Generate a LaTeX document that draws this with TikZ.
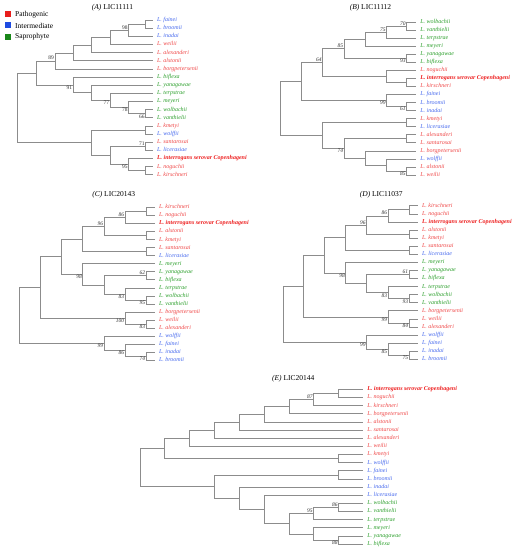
\documentclass[tikz,border=0pt]{standalone}
\usepackage{fontspec}
\setmainfont{Liberation Serif}
\definecolor{pat}{RGB}{240,72,72}
\definecolor{patb}{RGB}{238,30,30}
\definecolor{int}{RGB}{70,105,238}
\definecolor{sap}{RGB}{45,160,45}
\definecolor{sqred}{RGB}{232,30,28}
\definecolor{sqblue}{RGB}{30,75,225}
\definecolor{sqgreen}{RGB}{25,135,25}
\definecolor{brc}{RGB}{140,140,140}
\tikzset{
  br/.style={draw=brc, line width=0.55pt},
  leaf/.style={anchor=west, inner xsep=3.8pt, inner ysep=0pt,
    font=\fontsize{6}{6}\selectfont\itshape, text height=4.2pt, text depth=1.2pt},
  leafb/.style={leaf, font=\fontsize{6}{6}\selectfont\bfseries\itshape, text=patb},
  bs/.style={inner sep=0.6pt, font=\fontsize{5.5}{5.5}\selectfont, text=black!80},
  ttl/.style={inner sep=0pt, font=\fontsize{7.5}{7.5}\selectfont},
  sq/.style={minimum size=6pt, inner sep=0pt},
  lgt/.style={anchor=west, inner sep=0pt, font=\fontsize{7.5}{7.5}\selectfont}
}
\newcommand\myleaf[5]{\coordinate (#1) at (#2,#3); \node[leaf,text=#4] (#1t) at (#1) {L. #5};}
\newcommand\myleafb[3]{\coordinate (#1) at (#2,#3); \node[leafb] (#1t) at (#1) {L. interrogans serovar Copenhageni};}
\newcommand\mynode[3]{\coordinate (#1) at (#2,#3);}
\newcommand\myjoin[3]{\draw[br] (#1) |- (#2); \draw[br] (#1) |- (#3);}
\newcommand\bsup[2]{\node[bs,anchor=south east] (#1bs) at (#1) {#2};}
\newcommand\bsdn[2]{\node[bs,anchor=north east] (#1bs) at (#1) {#2};}
\begin{document}
\begin{tikzpicture}[x=1pt,y=-1pt]
\path[use as bounding box, fill=white] (0,0) rectangle (517,550);
% legend
\node[sq,fill=sqred] (lg1) at (8.3,14.4) {};
\node[sq,fill=sqblue] (lg2) at (8.3,25.4) {};
\node[sq,fill=sqgreen] (lg3) at (8.3,36.5) {};
\node[lgt] (lg1t) at (15,14.6) {Pathogenic};
\node[lgt] (lg2t) at (15,25.6) {Intermediate};
\node[lgt] (lg3t) at (15,36.7) {Saprophyte};
% titles
\node[ttl] (tA) at (112.5,7.5) {\textit{(A)} LIC11111};
\node[ttl] (tB) at (370.5,7.5) {\textit{(B)} LIC11112};
\node[ttl] (tC) at (113.7,194.5) {\textit{(C)} LIC20143};
\node[ttl] (tD) at (381.3,194.5) {\textit{(D)} LIC11037};
\node[ttl] (tE) at (293.3,379) {\textit{(E)} LIC20144};

% ================= Tree A
\myleaf{Afai}{153}{20.00}{int}{fainei}
\myleaf{Abro}{153}{28.14}{int}{broomii}
\myleaf{Aina}{153}{36.28}{int}{inadai}
\myleaf{Awei}{153}{44.42}{pat}{weilii}
\myleaf{Aale}{153}{52.56}{pat}{alexanderi}
\myleaf{Aals}{153}{60.70}{pat}{alstonii}
\myleaf{Abor}{153}{68.84}{pat}{borgpetersenii}
\myleaf{Abif}{153}{76.98}{sap}{biflexa}
\myleaf{Ayan}{153}{85.12}{sap}{yanagawae}
\myleaf{Ater}{153}{93.26}{sap}{terpstrae}
\myleaf{Amey}{153}{101.40}{sap}{meyeri}
\myleaf{Awol}{153}{109.54}{sap}{wolbachii}
\myleaf{Avan}{153}{117.68}{sap}{vanthielii}
\myleaf{Akme}{153}{125.82}{pat}{kmetyi}
\myleaf{Awof}{153}{133.96}{int}{wolffii}
\myleaf{Asan}{153}{142.10}{pat}{santarosai}
\myleaf{Alic}{153}{150.24}{int}{licerasiae}
\myleafb{Aint}{153}{158.38}
\myleaf{Anog}{153}{166.52}{pat}{noguchii}
\myleaf{Akir}{153}{174.66}{pat}{kirschneri}
\mynode{a1}{145.5}{24.07}
\mynode{a2}{128.3}{30.18}
\mynode{a3}{110}{37.30}
\mynode{a4}{91.5}{44.93}
\mynode{a5}{73}{52.81}
\mynode{a6}{54.8}{60.83}
\mynode{a7}{145.5}{113.61}
\mynode{a8}{128.3}{107.51}
\mynode{a9}{110}{100.38}
\mynode{a10}{91.5}{92.75}
\mynode{a11}{73}{84.87}
\mynode{a12}{36}{72.85}
\mynode{a13}{145.5}{129.89}
\mynode{a14}{145.5}{146.17}
\mynode{a15}{145.5}{170.59}
\mynode{a16}{128.3}{164.49}
\mynode{a17}{110}{155.33}
\mynode{a18}{91.5}{142.61}
\mynode{aR}{17.3}{107.73}
\myjoin{a1}{Afai}{Abro}
\myjoin{a2}{a1}{Aina}
\myjoin{a3}{a2}{Awei}
\myjoin{a4}{a3}{Aale}
\myjoin{a5}{a4}{Aals}
\myjoin{a6}{a5}{Abor}
\myjoin{a7}{Awol}{Avan}
\myjoin{a8}{Amey}{a7}
\myjoin{a9}{Ater}{a8}
\myjoin{a10}{Ayan}{a9}
\myjoin{a11}{Abif}{a10}
\myjoin{a12}{a6}{a11}
\myjoin{a13}{Akme}{Awof}
\myjoin{a14}{Asan}{Alic}
\myjoin{a15}{Anog}{Akir}
\myjoin{a16}{Aint}{a15}
\myjoin{a17}{a14}{a16}
\myjoin{a18}{a13}{a17}
\myjoin{aR}{a12}{a18}
\bsup{a2}{98}
\bsup{a6}{89}
\bsdn{a11}{91}
\bsdn{a9}{77}
\bsdn{a8}{78}
\bsdn{a7}{66}
\bsup{a14}{71}
\bsdn{a16}{95}

\begin{scope}[bs/.append style={font=\fontsize{5.5}{5.5}\selectfont\itshape}]
% ================= Tree B
\myleaf{Bwol}{416.3}{22.00}{sap}{wolbachii}
\myleaf{Bvan}{416.3}{30.05}{sap}{vanthielii}
\myleaf{Bter}{416.3}{38.10}{sap}{terpstrae}
\myleaf{Bmey}{416.3}{46.15}{sap}{meyeri}
\myleaf{Byan}{416.3}{54.20}{sap}{yanagawae}
\myleaf{Bbif}{416.3}{62.25}{sap}{biflexa}
\myleaf{Bnog}{416.3}{70.30}{pat}{noguchii}
\myleafb{Bint}{416.3}{78.35}
\myleaf{Bkir}{416.3}{86.40}{pat}{kirschneri}
\myleaf{Bfai}{416.3}{94.45}{int}{fainei}
\myleaf{Bbro}{416.3}{102.50}{int}{broomii}
\myleaf{Bina}{416.3}{110.55}{int}{inadai}
\myleaf{Bkme}{416.3}{118.60}{pat}{kmetyi}
\myleaf{Blic}{416.3}{126.65}{int}{licerasiae}
\myleaf{Bale}{416.3}{134.70}{pat}{alexanderi}
\myleaf{Bsan}{416.3}{142.75}{pat}{santarosai}
\myleaf{Bbor}{416.3}{150.80}{pat}{borgpetersenii}
\myleaf{Bwof}{416.3}{158.85}{int}{wolffii}
\myleaf{Bals}{416.3}{166.90}{pat}{alstonii}
\myleaf{Bwei}{416.3}{174.95}{pat}{weilii}
\mynode{b1}{406.5}{26.03}
\mynode{b2}{386.3}{32.06}
\mynode{b3}{365}{39.10}
\mynode{b4}{406.5}{58.23}
\mynode{b5}{344}{48.67}
\mynode{b6}{406.5}{82.38}
\mynode{b7}{386.3}{76.34}
\mynode{b8}{322.5}{62.50}
\mynode{b9}{406.5}{106.53}
\mynode{b10}{386.3}{100.49}
\mynode{b11}{301.3}{81.50}
\mynode{b12}{406.5}{122.63}
\mynode{b13}{406.5}{138.73}
\mynode{b14}{406.5}{170.93}
\mynode{b15}{386.3}{164.89}
\mynode{b16}{365}{157.85}
\mynode{b17}{344}{148.29}
\mynode{b18}{322.5}{135.46}
\mynode{bR}{280.7}{108.48}
\myjoin{b1}{Bwol}{Bvan}
\myjoin{b2}{b1}{Bter}
\myjoin{b3}{b2}{Bmey}
\myjoin{b4}{Byan}{Bbif}
\myjoin{b5}{b3}{b4}
\myjoin{b6}{Bint}{Bkir}
\myjoin{b7}{Bnog}{b6}
\myjoin{b8}{b5}{b7}
\myjoin{b9}{Bbro}{Bina}
\myjoin{b10}{Bfai}{b9}
\myjoin{b11}{b8}{b10}
\myjoin{b12}{Bkme}{Blic}
\myjoin{b13}{Bale}{Bsan}
\myjoin{b14}{Bals}{Bwei}
\myjoin{b15}{Bwof}{b14}
\myjoin{b16}{Bbor}{b15}
\myjoin{b17}{b13}{b16}
\myjoin{b18}{b12}{b17}
\myjoin{bR}{b11}{b18}
\bsup{b1}{70}
\bsup{b2}{75}
\bsdn{b4}{93}
\bsup{b5}{85}
\bsup{b8}{64}
\bsdn{b9}{61}
\bsdn{b10}{99}
\bsdn{b14}{85}
\bsdn{b17}{74}

% ================= Tree C
\myleaf{Ckir}{155}{207.30}{pat}{kirschneri}
\myleaf{Cnog}{155}{215.35}{pat}{noguchii}
\myleafb{Cint}{155}{223.40}
\myleaf{Cals}{155}{231.45}{pat}{alstonii}
\myleaf{Ckme}{155}{239.50}{pat}{kmetyi}
\myleaf{Csan}{155}{247.55}{pat}{santarosai}
\myleaf{Clic}{155}{255.60}{int}{licerasiae}
\myleaf{Cmey}{155}{263.65}{sap}{meyeri}
\myleaf{Cyan}{155}{271.70}{sap}{yanagawae}
\myleaf{Cbif}{155}{279.75}{sap}{biflexa}
\myleaf{Cter}{155}{287.80}{sap}{terpstrae}
\myleaf{Cwol}{155}{295.85}{sap}{wolbachii}
\myleaf{Cvan}{155}{303.90}{sap}{vanthielii}
\myleaf{Cbor}{155}{311.95}{pat}{borgpetersenii}
\myleaf{Cwei}{155}{320.00}{pat}{weilii}
\myleaf{Cale}{155}{328.05}{pat}{alexanderi}
\myleaf{Cwof}{155}{336.10}{int}{wolffii}
\myleaf{Cfai}{155}{344.15}{int}{fainei}
\myleaf{Cina}{155}{352.20}{int}{inadai}
\myleaf{Cbro}{155}{360.25}{int}{broomii}
\mynode{c1}{146}{211.33}
\mynode{c2}{125}{217.36}
\mynode{c3}{146}{235.48}
\mynode{c4}{104}{226.42}
\mynode{c5}{146}{251.58}
\mynode{c6}{82.7}{239.00}
\mynode{c7}{146}{275.73}
\mynode{c8}{146}{299.88}
\mynode{c9}{125}{293.84}
\mynode{c10}{104}{284.78}
\mynode{c11}{82.7}{274.22}
\mynode{c12}{61.7}{256.61}
\mynode{c13}{146}{324.03}
\mynode{c14}{125}{317.99}
\mynode{c15}{40.7}{287.30}
\mynode{c16}{146}{356.23}
\mynode{c17}{125}{350.19}
\mynode{c18}{104}{343.14}
\mynode{cR}{19.3}{315.22}
\myjoin{c1}{Ckir}{Cnog}
\myjoin{c2}{c1}{Cint}
\myjoin{c3}{Cals}{Ckme}
\myjoin{c4}{c2}{c3}
\myjoin{c5}{Csan}{Clic}
\myjoin{c6}{c4}{c5}
\myjoin{c7}{Cyan}{Cbif}
\myjoin{c8}{Cwol}{Cvan}
\myjoin{c9}{Cter}{c8}
\myjoin{c10}{c7}{c9}
\myjoin{c11}{Cmey}{c10}
\myjoin{c12}{c6}{c11}
\myjoin{c13}{Cwei}{Cale}
\myjoin{c14}{Cbor}{c13}
\myjoin{c15}{c12}{c14}
\myjoin{c16}{Cina}{Cbro}
\myjoin{c17}{Cfai}{c16}
\myjoin{c18}{Cwof}{c17}
\myjoin{cR}{c15}{c18}
\bsup{c2}{86}
\bsup{c4}{96}
\bsup{c7}{62}
\bsdn{c8}{95}
\bsdn{c9}{83}
\bsdn{c11}{98}
\bsdn{c13}{83}
\bsdn{c14}{100}
\bsdn{c16}{74}
\bsdn{c17}{86}
\bsdn{c18}{99}

% ================= Tree D
\myleaf{Dkir}{418}{205.70}{pat}{kirschneri}
\myleaf{Dnog}{418}{213.78}{pat}{noguchii}
\myleafb{Dint}{418}{221.86}
\myleaf{Dals}{418}{229.94}{pat}{alstonii}
\myleaf{Dkme}{418}{238.02}{pat}{kmetyi}
\myleaf{Dsan}{418}{246.10}{pat}{santarosai}
\myleaf{Dlic}{418}{254.18}{int}{licerasiae}
\myleaf{Dmey}{418}{262.26}{sap}{meyeri}
\myleaf{Dyan}{418}{270.34}{sap}{yanagawae}
\myleaf{Dbif}{418}{278.42}{sap}{biflexa}
\myleaf{Dter}{418}{286.50}{sap}{terpstrae}
\myleaf{Dwol}{418}{294.58}{sap}{wolbachii}
\myleaf{Dvan}{418}{302.66}{sap}{vanthielii}
\myleaf{Dbor}{418}{310.74}{pat}{borgpetersenii}
\myleaf{Dwei}{418}{318.82}{pat}{weilii}
\myleaf{Dale}{418}{326.90}{pat}{alexanderi}
\myleaf{Dwof}{418}{334.98}{int}{wolffii}
\myleaf{Dfai}{418}{343.06}{int}{fainei}
\myleaf{Dina}{418}{351.14}{int}{inadai}
\myleaf{Dbro}{418}{359.22}{int}{broomii}
\mynode{d1}{409}{209.74}
\mynode{d2}{388}{215.80}
\mynode{d3}{409}{233.98}
\mynode{d4}{366.5}{224.89}
\mynode{d5}{409}{250.14}
\mynode{d6}{345.7}{237.52}
\mynode{d7}{409}{274.38}
\mynode{d8}{409}{298.62}
\mynode{d9}{388}{292.56}
\mynode{d10}{366.5}{283.47}
\mynode{d11}{345.7}{272.87}
\mynode{d12}{324.7}{255.19}
\mynode{d13}{409}{322.86}
\mynode{d14}{388}{316.80}
\mynode{d15}{303.7}{286.00}
\mynode{d16}{409}{355.18}
\mynode{d17}{388}{349.12}
\mynode{d18}{366.5}{342.05}
\mynode{dR}{283.3}{314.02}
\myjoin{d1}{Dkir}{Dnog}
\myjoin{d2}{d1}{Dint}
\myjoin{d3}{Dals}{Dkme}
\myjoin{d4}{d2}{d3}
\myjoin{d5}{Dsan}{Dlic}
\myjoin{d6}{d4}{d5}
\myjoin{d7}{Dyan}{Dbif}
\myjoin{d8}{Dwol}{Dvan}
\myjoin{d9}{Dter}{d8}
\myjoin{d10}{d7}{d9}
\myjoin{d11}{Dmey}{d10}
\myjoin{d12}{d6}{d11}
\myjoin{d13}{Dwei}{Dale}
\myjoin{d14}{Dbor}{d13}
\myjoin{d15}{d12}{d14}
\myjoin{d16}{Dina}{Dbro}
\myjoin{d17}{Dfai}{d16}
\myjoin{d18}{Dwof}{d17}
\myjoin{dR}{d15}{d18}
\bsup{d2}{86}
\bsup{d4}{96}
\bsup{d7}{61}
\bsdn{d8}{93}
\bsdn{d9}{83}
\bsdn{d11}{98}
\bsdn{d13}{84}
\bsdn{d14}{99}
\bsdn{d16}{75}
\bsdn{d17}{85}
\bsdn{d18}{99}

% ================= Tree E
\myleafb{Eint}{363.3}{389.30}
\myleaf{Enog}{363.3}{397.44}{pat}{noguchii}
\myleaf{Ekir}{363.3}{405.58}{pat}{kirschneri}
\myleaf{Ebor}{363.3}{413.72}{pat}{borgpetersenii}
\myleaf{Eals}{363.3}{421.86}{pat}{alstonii}
\myleaf{Esan}{363.3}{430.00}{pat}{santarosai}
\myleaf{Eale}{363.3}{438.14}{pat}{alexanderi}
\myleaf{Ewei}{363.3}{446.28}{pat}{weilii}
\myleaf{Ekme}{363.3}{454.42}{pat}{kmetyi}
\myleaf{Ewof}{363.3}{462.56}{int}{wolffii}
\myleaf{Efai}{363.3}{470.70}{int}{fainei}
\myleaf{Ebro}{363.3}{478.84}{int}{broomii}
\myleaf{Eina}{363.3}{486.98}{int}{inadai}
\myleaf{Elic}{363.3}{495.12}{int}{licerasiae}
\myleaf{Ewol}{363.3}{503.26}{sap}{wolbachii}
\myleaf{Evan}{363.3}{511.40}{sap}{vanthielii}
\myleaf{Eter}{363.3}{519.54}{sap}{terpstrae}
\myleaf{Emey}{363.3}{527.68}{sap}{meyeri}
\myleaf{Eyan}{363.3}{535.82}{sap}{yanagawae}
\myleaf{Ebif}{363.3}{543.96}{sap}{biflexa}
\mynode{e1}{338.3}{393.37}
\mynode{e2}{313.3}{399.48}
\mynode{e3}{289}{406.60}
\mynode{e4}{264}{414.23}
\mynode{e5}{239}{422.12}
\mynode{e6}{214.3}{430.13}
\mynode{e7}{189.3}{438.20}
\mynode{e8}{338.3}{458.49}
\mynode{e9}{164.3}{448.35}
\mynode{e10}{338.3}{474.77}
\mynode{e11}{338.3}{507.33}
\mynode{e12}{313.3}{513.44}
\mynode{e13}{338.3}{539.89}
\mynode{e14}{313.3}{533.79}
\mynode{e15}{289}{523.61}
\mynode{e16}{264}{509.37}
\mynode{e17}{239}{498.17}
\mynode{e18}{214.3}{486.47}
\mynode{eR}{140}{467.41}
\myjoin{e1}{Eint}{Enog}
\myjoin{e2}{e1}{Ekir}
\myjoin{e3}{e2}{Ebor}
\myjoin{e4}{e3}{Eals}
\myjoin{e5}{e4}{Esan}
\myjoin{e6}{e5}{Eale}
\myjoin{e7}{e6}{Ewei}
\myjoin{e8}{Ekme}{Ewof}
\myjoin{e9}{e7}{e8}
\myjoin{e10}{Efai}{Ebro}
\myjoin{e11}{Ewol}{Evan}
\myjoin{e12}{e11}{Eter}
\myjoin{e13}{Eyan}{Ebif}
\myjoin{e14}{Emey}{e13}
\myjoin{e15}{e12}{e14}
\myjoin{e16}{Elic}{e15}
\myjoin{e17}{Eina}{e16}
\myjoin{e18}{e10}{e17}
\myjoin{eR}{e9}{e18}
\bsup{e2}{87}
\bsup{e11}{86}
\bsup{e12}{95}
\bsdn{e13}{88}
\end{scope}
\end{tikzpicture}
\end{document}
